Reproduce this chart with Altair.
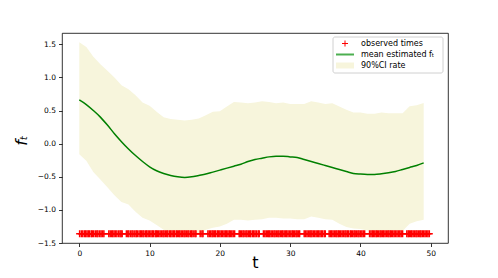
import altair as alt
import pandas as pd

# ---- data ----
t_grid = list(range(0, 50))
upper = [1.53, 1.46, 1.31, 1.20, 1.10, 1.00, 0.88, 0.82, 0.73, 0.62,
         0.57, 0.48, 0.40, 0.37, 0.36, 0.35, 0.36, 0.38, 0.43, 0.48,
         0.49, 0.56, 0.63, 0.62, 0.61, 0.62, 0.64, 0.63, 0.61, 0.62,
         0.60, 0.60, 0.60, 0.64, 0.62, 0.60, 0.61, 0.56, 0.51, 0.47,
         0.47, 0.45, 0.45, 0.47, 0.46, 0.46, 0.46, 0.565, 0.58, 0.615]
lower = [-0.16, -0.26, -0.43, -0.54, -0.66, -0.78, -0.88, -0.92, -1.03, -1.12,
         -1.16, -1.23, -1.30, -1.35, -1.38, -1.39, -1.39, -1.37, -1.30, -1.27,
         -1.25, -1.21, -1.15, -1.15, -1.16, -1.15, -1.14, -1.12, -1.12, -1.13,
         -1.13, -1.14, -1.14, -1.10, -1.12, -1.14, -1.15, -1.21, -1.26, -1.28,
         -1.29, -1.31, -1.35, -1.37, -1.38, -1.36, -1.32, -1.21, -1.17, -1.15]
mean = [0.66, 0.59, 0.50, 0.40, 0.28, 0.15, 0.03, -0.08, -0.18, -0.27,
        -0.35, -0.41, -0.45, -0.48, -0.50, -0.51, -0.50, -0.48, -0.46, -0.43,
        -0.40, -0.37, -0.34, -0.31, -0.27, -0.24, -0.22, -0.20, -0.19, -0.19,
        -0.20, -0.21, -0.24, -0.27, -0.30, -0.33, -0.36, -0.39, -0.42, -0.45,
        -0.46, -0.465, -0.465, -0.455, -0.44, -0.42, -0.39, -0.36, -0.33, -0.29]

observed_times = [
    0.05, 0.3, 0.5, 0.75, 0.9, 1.1, 1.3, 1.45, 1.7, 1.85,
    2.05, 2.3, 2.5, 2.65, 2.9, 3.1, 3.3, 3.5, 4.2, 4.4, 4.6, 4.75, 4.95,
    5.15, 5.35, 5.6, 5.8, 5.95, 6.1, 6.7, 6.9, 7.05, 7.3, 7.5, 7.65, 7.9,
    8.1, 8.25, 8.5, 8.7, 8.85, 9.05, 9.2, 9.45, 9.6, 9.8,
    10.0, 10.2, 10.4, 10.55, 10.8, 10.95, 11.1, 11.3, 11.5, 11.7, 11.9,
    12.05, 12.25, 12.45, 12.6, 12.85, 13.0, 13.2, 13.4, 13.55, 13.8, 13.95,
    14.15, 14.3, 14.5, 14.7, 14.9, 15.05, 15.25, 15.45, 15.6, 15.85,
    16.0, 16.2, 16.45, 16.6, 17.2, 17.45, 17.6, 18.3, 18.5, 18.7, 18.9,
    19.05, 19.25, 19.4, 19.65, 19.8, 20.0, 20.2, 20.4, 20.6, 20.8, 20.95,
    21.15, 21.35, 21.5, 21.7, 21.9, 22.1, 22.75, 22.9,
    23.1, 23.3, 23.45, 23.7, 23.85, 24.05, 24.25, 24.4, 24.65, 24.8,
    25.0, 25.2, 25.45, 25.6, 26.2, 26.4, 26.6, 26.8, 26.95,
    27.1, 27.3, 27.5, 27.7, 27.85, 28.05, 28.25, 28.4, 28.6, 28.8, 28.95,
    29.15, 29.35, 29.5, 29.7, 29.9, 30.1, 30.3, 30.45, 30.65, 30.85,
    31.0, 31.2, 31.35, 32.0, 32.2, 32.4, 32.6, 32.8, 32.95,
    33.1, 33.3, 33.5, 33.7, 33.9, 34.05, 34.25, 34.45, 34.6, 34.85,
    35.0, 35.55, 35.75, 35.9, 36.1, 36.3, 36.5, 36.65, 36.85,
    37.0, 37.2, 37.4, 37.6, 37.8, 37.95, 38.15, 38.3, 38.55, 38.7, 38.9,
    39.1, 39.25, 39.45, 39.65, 39.8, 40.0, 40.2, 40.4, 40.6,
    41.3, 41.5, 41.7, 41.85, 42.05, 42.25, 42.4, 42.6, 42.8, 42.95,
    43.15, 43.3, 43.5, 43.7, 43.9, 44.05, 44.25, 44.4, 44.6, 44.8,
    45.0, 45.2, 45.4, 45.6, 45.8, 46.0, 46.6, 46.8, 46.95,
    47.15, 47.3, 47.5, 47.7, 47.9, 48.05, 48.25, 48.45, 48.6, 48.8,
    49.0, 49.2, 49.4, 49.6, 49.8,
]
obs_level = -1.36

x_ticks = [0, 10, 20, 30, 40, 50]
y_ticks = [-1.5, -1.0, -0.5, 0.0, 0.5, 1.0, 1.5]
legend_labels = ["observed times", "mean estimated fₜ", "90%CI rate"]

# ---- tables ----
curve = pd.DataFrame({"t": t_grid, "upper": upper, "lower": lower, "mean": mean})
obs = pd.DataFrame({"t": observed_times, "y": [obs_level] * len(observed_times)})

W, H = 386, 210
xs = alt.Scale(domain=[-2.46, 52.46], nice=False, zero=False)
ys = alt.Scale(domain=[-1.5, 1.67], nice=False, zero=False)

xax = alt.Axis(values=x_ticks, format="d", title="t", grid=False,
               labelOverlap=False, labelFlush=False,
               titleFontSize=16, titleFont="DejaVu Sans", titleFontWeight="normal",
               titleY=24, titleBaseline="alphabetic")
yax = alt.Axis(values=y_ticks, format=".1f", title="fₜ", grid=False,
               labelOverlap=False, labelFlush=False,
               titleFontSize=16, titleFont="DejaVu Sans", titleFontStyle="italic",
               titleFontWeight="normal", titleAngle=270, titleX=-33, titleY=107,
               titleAlign="center", titleBaseline="bottom")

band = alt.Chart(curve).mark_area(color="#f7f5dc", opacity=1).encode(
    x=alt.X("t:Q", scale=xs, axis=xax),
    y=alt.Y("upper:Q", scale=ys, axis=yax),
    y2="lower:Q",
)
line = alt.Chart(curve).mark_line(color="green", strokeWidth=1.5,
                                  interpolate="monotone").encode(
    x=alt.X("t:Q", scale=xs, axis=xax),
    y=alt.Y("mean:Q", scale=ys, axis=yax),
)
plus_path = "M-1,0L1,0M0,-1L0,1"
points = alt.Chart(obs).mark_point(shape=plus_path, filled=False, color="red",
                                   size=49, strokeWidth=1.5, opacity=1).encode(
    x=alt.X("t:Q", scale=xs, axis=xax),
    y=alt.Y("y:Q", scale=ys, axis=yax),
)

# ---- legend (manual, matplotlib-style) ----
one = pd.DataFrame({"k": [0]})
leg_box = alt.Chart(one).mark_rect(fill="white", stroke="#cccccc", strokeWidth=1,
                                   cornerRadius=2, opacity=0.9).encode(
    x=alt.value(271), x2=alt.value(381), y=alt.value(4), y2=alt.value(40))
leg_plus = alt.Chart(one).mark_point(shape=plus_path, filled=False, color="red",
                                     size=36, strokeWidth=1, opacity=1).encode(
    x=alt.value(283), y=alt.value(10.5))
leg_line = alt.Chart(one).mark_rule(color="#4caf50", strokeWidth=2).encode(
    x=alt.value(274), x2=alt.value(292), y=alt.value(21.5))
leg_patch = alt.Chart(one).mark_rect(fill="#f7f5dc").encode(
    x=alt.value(274), x2=alt.value(292), y=alt.value(29.5), y2=alt.value(35.5))

leg_rows = [10.5, 21.5, 32.5]
leg_texts = [
    alt.Chart(pd.DataFrame({"label": [lab]})).mark_text(
        align="left", baseline="middle", fontSize=8, font="DejaVu Sans", color="black"
    ).encode(x=alt.value(299), y=alt.value(yy), text="label:N")
    for lab, yy in zip(legend_labels, leg_rows)
]

chart = alt.layer(band, line, points, leg_box, leg_plus, leg_line, leg_patch, *leg_texts).properties(
    width=W, height=H,
    autosize=alt.AutoSizeParams(type="none"),
    padding={"left": 54, "top": 25, "right": 42, "bottom": 27},
).configure_view(stroke="black", strokeWidth=0.8).configure_axis(
    domain=False, tickColor="black", tickSize=3.5, tickWidth=0.8,
    labelFontSize=7.5, labelFont="DejaVu Sans", labelColor="black",
    labelPadding=2.5, titleColor="black", labelOverlap=False,
).configure_axisY(labelPadding=3)

chart.save("out.html", embed_options={"renderer": "svg", "actions": False})
